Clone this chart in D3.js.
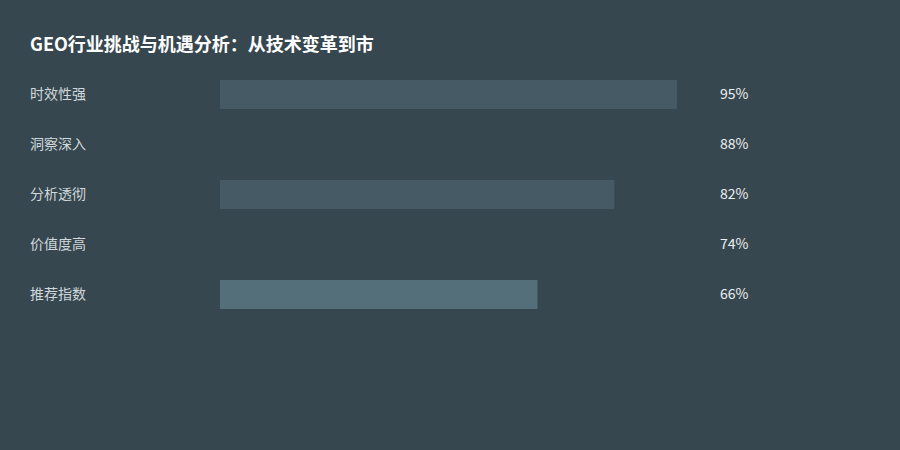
<!DOCTYPE html>
<html><head><meta charset="utf-8">
<script src="https://cdn.jsdelivr.net/npm/d3@7"></script>
<style>html,body{margin:0;padding:0;background:#37474F;}svg{display:block;}</style>
</head><body>
<script>
const title = "GEO行业挑战与机遇分析：从技术变革到市";
const categories = ["时效性强","洞察深入","分析透彻","价值度高","推荐指数"];
const values = [95, 88, 82, 74, 66];
const barColors = ["#455A64","#37474F","#455A64","#37474F","#546E7A"];

const W = 900, H = 450;
const font = "'Noto Sans CJK SC','Noto Sans',sans-serif";
const svg = d3.select("body").append("svg").attr("width", W).attr("height", H);
svg.append("rect").attr("width", W).attr("height", H).attr("fill", "#37474F");

svg.append("text").attr("x", 30).attr("y", 51)
  .attr("font-family", font).attr("font-size", 18).attr("font-weight", "bold")
  .attr("fill", "#ffffff").text(title);

const x = d3.scaleLinear().domain([0, 100]).range([220, 701]);
const y = d3.scaleBand().domain(categories).range([69.5, 319.5]).paddingInner(0.42).paddingOuter(0.21);

const g = svg.append("g");
const rows = g.selectAll("g.row").data(categories.map((c, i) => ({c, v: values[i], col: barColors[i]})))
  .enter().append("g").attr("class", "row");

rows.append("rect")
  .attr("x", x(0)).attr("y", d => y(d.c))
  .attr("width", d => x(d.v) - x(0)).attr("height", y.bandwidth())
  .attr("fill", d => d.col);

rows.append("text").attr("x", 30).attr("y", d => y(d.c) + y.bandwidth() / 2)
  .attr("dy", "0.35em").attr("font-family", font).attr("font-size", 14)
  .attr("fill", "#CFD8DC").text(d => d.c);

rows.append("text").attr("x", 720).attr("y", d => y(d.c) + y.bandwidth() / 2)
  .attr("dy", "0.35em").attr("font-family", font).attr("font-size", 14)
  .attr("fill", "#ECEFF1").text(d => d.v + "%");
</script>
</body></html>
